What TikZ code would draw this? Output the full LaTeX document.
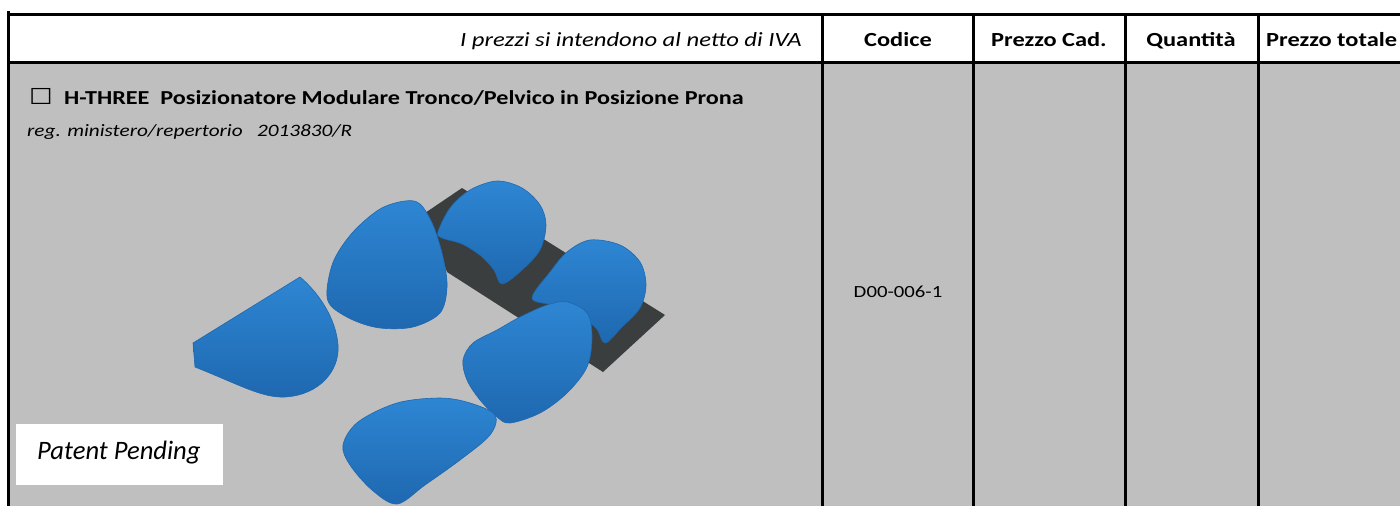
\documentclass[tikz,border=0pt]{standalone}
\usepackage{fontspec}
\setmainfont{Carlito}
\newfontfamily\tabfont[FakeStretch=1.22]{Carlito}
\newfontfamily\boxfont[FakeStretch=1.2]{DejaVu Sans}

\definecolor{cellgray}{RGB}{191,191,191}
\definecolor{cushlight}{RGB}{46,134,211}
\definecolor{cushblue}{RGB}{38,122,198}
\definecolor{cushdark}{RGB}{30,104,176}
\definecolor{strapgray}{RGB}{58,62,62}

\begin{document}
\begin{tikzpicture}[
     x = 1pt,
     y = -1pt,
     rule/.style = {line width=3pt, black},
     headtext/.style = {font=\tabfont\fontsize{20}{24}\selectfont\bfseries, inner sep=0pt, anchor=base},
     notetext/.style = {font=\tabfont\fontsize{20.2}{24}\selectfont\itshape, inner sep=0pt, anchor=base east},
     titletext/.style = {font=\tabfont\fontsize{19.8}{23}\selectfont\bfseries, inner sep=0pt, anchor=base west},
     regtext/.style = {font=\tabfont\fontsize{17.4}{20}\selectfont\itshape, inner sep=0pt, anchor=base west},
     codetext/.style = {font=\tabfont\fontsize{17}{20}\selectfont, inner sep=0pt, anchor=base},
     cushion/.style = {top color=cushlight, bottom color=cushdark, draw=cushdark, line width=0.6pt}
    ]
    \useasboundingbox (0,0) rectangle (1400,506);

    % cells
    \fill[white] (8,14) rectangle (1400,62);
    \fill[cellgray] (8,62) rectangle (1400,506);
    \fill[white] (16,424) rectangle (223,485);

    % strap under the cushions
    \fill[strapgray] (425,213) -- (462,188) -- (665,315) -- (603,372) -- (447,272) -- cycle;

    % cushions
    \path[cushion] plot[smooth cycle, tension=0.55] coordinates {(438,232) (450,208) (470,190) (497,181) (522,188) (540,205) (546,225) (540,250) (522,270) (502,284) (494,270) (481,256) (462,244) (442,238)};
    \path[cushion] plot[smooth cycle, tension=0.55] coordinates {(532,298) (550,272) (567,252) (590,240) (620,245) (640,262) (646,285) (640,308) (622,327) (605,343) (596,328) (575,313) (552,305)};
    \path[cushion] plot[smooth cycle, tension=0.55] coordinates {(405,201) (380,209) (353,232) (334,260) (327,290) (331,306) (353,320) (380,328) (413,327) (440,313) (447,287) (443,257) (433,225) (420,204)};
    \path[cushion] (300,277) -- (193,343) -- (195,367)
       .. controls (240,385) and (262,398) .. (285,397)
       .. controls (320,395) and (340,370) .. (338,345)
       .. controls (336,318) and (318,292) .. cycle;
    \path[cushion] plot[smooth cycle, tension=0.55] coordinates {(567,302) (587,313) (592,337) (587,367) (567,393) (540,413) (510,423) (497,417) (480,400) (467,380) (463,360) (473,343) (497,330) (520,317) (547,305)};
    \path[cushion] plot[smooth cycle, tension=0.55] coordinates {(343,445) (358,422) (397,403) (440,398) (470,403) (495,415) (490,435) (460,460) (425,485) (397,504) (372,490) (350,465)};

    % table rules
    \draw[rule] (7,14) -- (1400,14);
    \draw[rule] (8.5,11) -- (8.5,506);
    \draw[rule] (8.5,62) -- (1400,62);
    \foreach \colx in {822,973,1125,1258}
      \draw[rule] (\colx,14) -- (\colx,506);

    % header
    \node[notetext] (note) at (802,46) {I prezzi si intendono al netto di IVA};
    \node[headtext] (codice) at (898,46) {Codice};
    \node[headtext] (prezzocad) at (1049,46) {Prezzo Cad.};
    \node[headtext] (quantita) at (1191,46) {Quantità};
    \node[headtext, anchor=base west] (totale) at (1266,46) {Prezzo totale};

    % body
    \node[inner sep=0pt, anchor=base west, font=\boxfont\fontsize{22}{24}\selectfont] (check) at (29,104) {☐};
    \node[titletext] (title) at (64,104) {H-THREE\ \ Posizionatore Modulare Tronco/Pelvico in Posizione Prona};
    \node[regtext] (reg) at (27,136) {reg. ministero/repertorio\ \ \ 2013830/R};
    \node[codetext] (code) at (898,297) {D00-006-1};
    \node[inner sep=0pt, anchor=base west, font=\fontsize{26.6}{30}\selectfont\itshape] (patent) at (37,459) {Patent Pending};
\end{tikzpicture}
\end{document}
